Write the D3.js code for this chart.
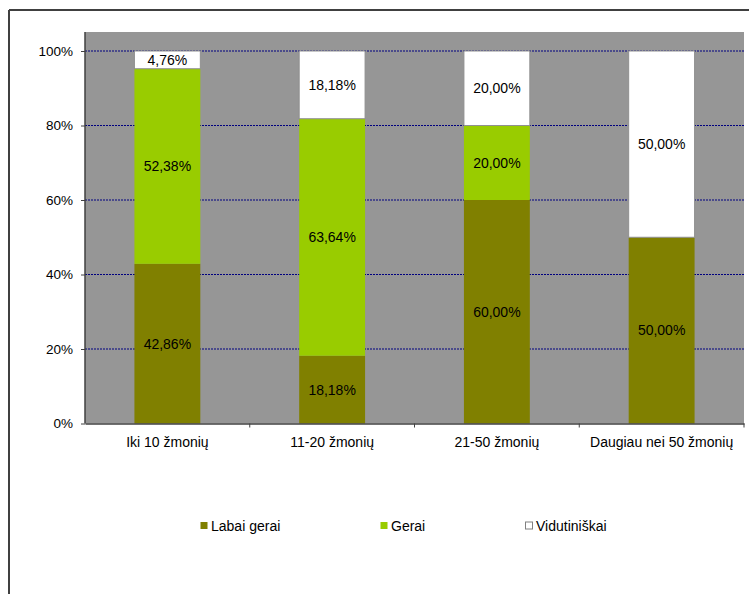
<!DOCTYPE html>
<html>
<head>
<meta charset="utf-8">
<script src="https://cdn.jsdelivr.net/npm/d3@7"></script>
<style>
  body { margin: 0; background: #fff; }
  svg { display: block; font-family: "Liberation Sans", Arial, sans-serif; }
</style>
</head>
<body>
<div id="chart"></div>
<script>
// data
const categories = ["Iki 10 žmonių", "11-20 žmonių", "21-50 žmonių", "Daugiau nei 50 žmonių"];
const seriesNames = ["Labai gerai", "Gerai", "Vidutiniškai"];
const labaiGerai = [42.86, 18.18, 60.0, 50.0];
const gerai = [52.38, 63.64, 20.0, 0];
const vidutiniskai = [4.76, 18.18, 20.0, 50.0];
const yTicks = [0, 20, 40, 60, 80, 100];

const colors = ["#808000", "#99CC00", "#FFFFFF"];

const W = 749, H = 594;
const plot = { left: 85, right: 744, top: 32, bottom: 423.5 };

const svg = d3.select("#chart").append("svg")
  .attr("width", W).attr("height", H);

// outer chart border (only top and left visible)
svg.append("line").attr("x1", 9).attr("x2", W).attr("y1", 10).attr("y2", 10)
  .attr("stroke", "#404040").attr("stroke-width", 2);
svg.append("line").attr("x1", 9).attr("x2", 9).attr("y1", 10).attr("y2", H)
  .attr("stroke", "#404040").attr("stroke-width", 2);

const x = d3.scaleBand().domain(categories).range([plot.left, plot.right]).padding(0);
const y = d3.scaleLinear().domain([0, 100]).range([plot.bottom, 51]);

// plot background
svg.append("rect")
  .attr("x", plot.left).attr("y", plot.top)
  .attr("width", plot.right - plot.left).attr("height", plot.bottom - plot.top)
  .attr("fill", "#969696");

// gridlines
svg.append("g").selectAll("line")
  .data(yTicks.filter(d => d > 0))
  .enter().append("line")
  .attr("x1", plot.left).attr("x2", plot.right)
  .attr("y1", d => y(d)).attr("y2", d => y(d))
  .attr("stroke", "#000080").attr("stroke-width", 1)
  .attr("stroke-dasharray", "2,1");

// stacked bars
const table = categories.map((c, i) => ({
  cat: c, "Labai gerai": labaiGerai[i], "Gerai": gerai[i], "Vidutiniškai": vidutiniskai[i]
}));
const stacked = d3.stack().keys(seriesNames)(table);
const barW = x.bandwidth() * 0.4;

stacked.forEach((layer, k) => {
  const g = svg.append("g");
  layer.forEach(d => {
    const v = d[1] - d[0];
    if (v <= 0) return;
    const bx = x(d.data.cat) + (x.bandwidth() - barW) / 2;
    g.append("rect")
      .attr("x", bx).attr("y", y(d[1]))
      .attr("width", barW).attr("height", y(d[0]) - y(d[1]))
      .attr("fill", colors[k])
      .attr("stroke", k === 2 ? "#909090" : "none")
      .attr("stroke-width", k === 2 ? 1 : 0);
    g.append("text")
      .attr("x", bx + barW / 2)
      .attr("y", (y(d[0]) + y(d[1])) / 2)
      .attr("text-anchor", "middle")
      .attr("dominant-baseline", "central")
      .style("font-size", "14px")
      .attr("fill", "#000")
      .text(v.toFixed(2).replace(".", ",") + "%");
  });
});

// y axis
const yAxis = svg.append("g")
  .attr("transform", `translate(${plot.left},0)`)
  .call(d3.axisLeft(y).tickValues(yTicks).tickSize(4).tickPadding(8).tickFormat(d => d + "%"));
yAxis.select(".domain").attr("stroke", "#404040").attr("stroke-width", 1.5)
  .attr("d", `M0,${plot.top}V${plot.bottom}`);
yAxis.selectAll(".tick line").attr("stroke", "#404040");
yAxis.selectAll(".tick text").style("font-size", "13.5px").attr("fill", "#000")
  .style("font-family", "'Liberation Sans', Arial, sans-serif");

// x axis
const xAxis = svg.append("g")
  .attr("transform", `translate(0,${plot.bottom})`)
  .call(d3.axisBottom(x).tickSize(0).tickPadding(14));
xAxis.select(".domain").attr("stroke", "#404040").attr("stroke-width", 1.5);
xAxis.selectAll(".tick text").style("font-size", "14px").attr("fill", "#000")
  .style("font-family", "'Liberation Sans', Arial, sans-serif");
// category boundary ticks
svg.append("g").selectAll("line")
  .data(categories.slice(1).concat(["end"]))
  .enter().append("line")
  .attr("x1", d => d === "end" ? plot.right : x(d))
  .attr("x2", d => d === "end" ? plot.right : x(d))
  .attr("y1", plot.bottom).attr("y2", plot.bottom + 4)
  .attr("stroke", "#404040");

// legend
const legendX = [200, 380, 525];
const legend = svg.append("g").selectAll("g")
  .data(seriesNames).enter().append("g")
  .attr("transform", (d, i) => `translate(${legendX[i]},525.5)`);
legend.append("rect")
  .attr("x", 0.5).attr("y", -3.5).attr("width", 7).attr("height", 7)
  .attr("fill", (d, i) => colors[i])
  .attr("stroke", (d, i) => i === 2 ? "#808080" : "none");
legend.append("text")
  .attr("x", 11).attr("y", 0)
  .attr("dominant-baseline", "central")
  .style("font-size", "14px")
  .text(d => d);
</script>
</body>
</html>
